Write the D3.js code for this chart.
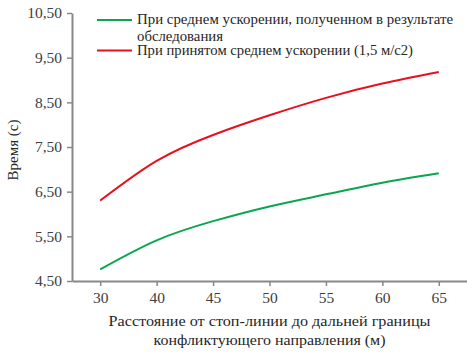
<!DOCTYPE html>
<html>
<head>
<meta charset="utf-8">
<script src="https://cdn.jsdelivr.net/npm/d3@7"></script>
<style>
  body { margin: 0; background: #fff; }
  svg text { font-family: "Liberation Serif", "DejaVu Serif", serif; }
</style>
</head>
<body>
<div id="chart"></div>
<script>
// distance categories (m)
const distances = [30, 40, 45, 50, 55, 60, 65];
// time (s) at surveyed mean acceleration
const timeSurveyed = [4.76, 5.41, 5.84, 6.17, 6.44, 6.70, 6.91];
// time (s) at assumed mean acceleration 1.5 m/s2
const timeAssumed = [6.30, 7.19, 7.77, 8.21, 8.60, 8.92, 9.18];
const yTicks = [4.5, 5.5, 6.5, 7.5, 8.5, 9.5, 10.5];

const seriesNames = [
    ["При среднем ускорении, полученном в результате", "обследования"],
    ["При принятом  среднем ускорении (1,5 м/с2)"]
];
const seriesColors = ["#0aa64f", "#e8101e"];

const serif = "'Liberation Serif', 'DejaVu Serif', serif";

const width = 467, height = 356;
const margin = { top: 13, right: 0, bottom: 75, left: 72 };

const svg = d3.select("#chart")
    .append("svg")
    .attr("width", width)
    .attr("height", height);

const x = d3.scalePoint()
    .domain(distances)
    .range([margin.left, width - margin.right])
    .padding(0.5);

const y = d3.scaleLinear()
    .domain([4.5, 10.5])
    .range([height - margin.bottom, margin.top]);

const fmt = d => d3.format(".2f")(d).replace(".", ",");

// y axis
const yAxis = svg.append("g")
    .attr("transform", `translate(${margin.left},0)`)
    .call(d3.axisLeft(y).tickValues(yTicks).tickSize(5).tickPadding(5).tickFormat(fmt).tickSizeOuter(0));

// x axis
const xAxis = svg.append("g")
    .attr("transform", `translate(0,${height - margin.bottom})`)
    .call(d3.axisBottom(x).tickSize(5).tickPadding(6).tickSizeOuter(0));

[yAxis, xAxis].forEach(g => {
    g.attr("font-family", null);
    g.select(".domain").attr("stroke", "#888").attr("stroke-width", 2);
    g.selectAll(".tick line").attr("stroke", "#888").attr("stroke-width", 1.5);
    g.selectAll("text")
        .style("font-size", "15.5px")
        .style("font-family", serif)
        .attr("fill", "#404040");
});

// lines
const line = d3.line()
    .x((d, i) => x(distances[i]))
    .y(d => y(d))
    .curve(d3.curveNatural);

[timeSurveyed, timeAssumed].forEach((vals, i) => {
    svg.append("path")
        .datum(vals)
        .attr("fill", "none")
        .attr("stroke", seriesColors[i])
        .attr("stroke-width", 2)
        .attr("d", line);
});

// stretch a text to the width it has in the original
function fitText(sel, w) {
    sel.attr("textLength", w).attr("lengthAdjust", "spacingAndGlyphs");
}

// legend
const legend = svg.append("g");
const legendY = [20, 50.5];
const legendWidths = [[316, 86], [276]];
seriesNames.forEach((lines, i) => {
    legend.append("line")
        .attr("x1", 97).attr("x2", 132)
        .attr("y1", legendY[i]).attr("y2", legendY[i])
        .attr("stroke", seriesColors[i])
        .attr("stroke-width", 2);
    lines.forEach((t, j) => {
        legend.append("text")
            .attr("x", 137)
            .attr("y", legendY[i] + j * 16.5)
            .attr("dy", "0.32em")
            .attr("fill", "#262626")
            .style("font-family", serif)
            .style("font-size", "14px")
            .text(t)
            .call(fitText, legendWidths[i][j]);
    });
});

// y-axis label
svg.append("text")
    .attr("transform", "rotate(-90)")
    .attr("x", -150)
    .attr("y", 18)
    .attr("text-anchor", "middle")
    .attr("fill", "#262626")
    .style("font-family", serif)
    .style("font-size", "15px")
    .text("Время (с)");

// x-axis label
const xMid = (margin.left + width - margin.right) / 2;
svg.append("text")
    .attr("x", xMid)
    .attr("y", 326)
    .attr("text-anchor", "middle")
    .attr("fill", "#262626")
    .style("font-family", serif)
    .style("font-size", "15px")
    .text("Расстояние  от стоп-линии до дальней границы")
    .call(fitText, 322);
svg.append("text")
    .attr("x", xMid)
    .attr("y", 345)
    .attr("text-anchor", "middle")
    .attr("fill", "#262626")
    .style("font-family", serif)
    .style("font-size", "15px")
    .text("конфликтующего  направления (м)")
    .call(fitText, 232);
</script>
</body>
</html>
